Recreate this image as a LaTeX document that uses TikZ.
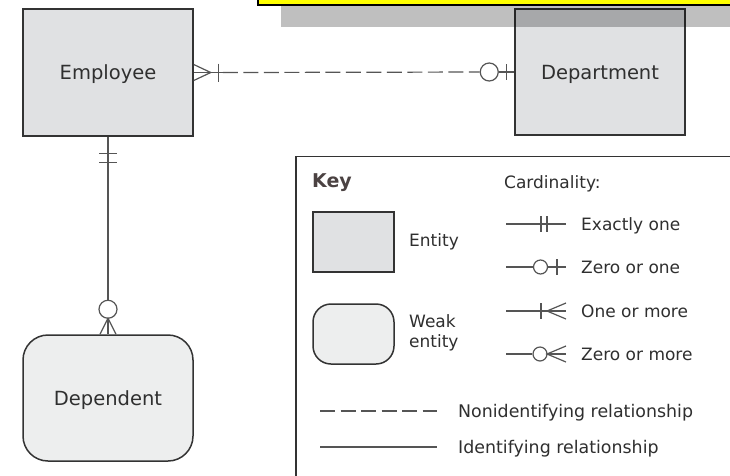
\documentclass[tikz,border=0pt]{standalone}
\usepackage{fontspec}
\setmainfont{DejaVu Sans}
\usetikzlibrary{calc}
\definecolor{ink}{HTML}{333333}
\definecolor{txt}{HTML}{2F2F2F}
\definecolor{keyhead}{HTML}{4B4242}
\definecolor{wire}{HTML}{555555}
\definecolor{entfill}{HTML}{E0E1E3}
\definecolor{weakfill}{HTML}{EDEEEE}
\definecolor{banner}{HTML}{FFFF00}

\begin{document}
\begin{tikzpicture}[x=1pt,y=-1pt,
  entity/.style={draw=ink, line width=1.5pt, fill=entfill,
    minimum width=170pt, minimum height=127pt, inner sep=0pt,
    font=\fontsize{19.5}{23}\selectfont, text=txt,
    text height=14.2pt, text depth=0pt},
  weak/.style={entity, fill=weakfill, rounded corners=25pt},
  conn/.style={draw=wire, line width=1.2pt},
  nonid/.style={conn, dash pattern=on 15pt off 5.5pt},
  ring/.style={circle, draw=wire, line width=1.2pt, fill=white,
    minimum size=18pt, inner sep=0pt},
  smallring/.style={ring, minimum size=14pt},
  keytext/.style={text=txt, font=\fontsize{17}{20.5}\selectfont,
    anchor=base west, inner sep=0pt},
]
\useasboundingbox (0,0) rectangle (730,475);
\clip (0,0) rectangle (730,475);
\fill[white] (0,0) rectangle (730,475);

% entities
\node[entity] (emp) at (108,72.5) {Employee};
\node[entity, minimum height=126pt] (dept) at (600,72) {Department};
\node[weak, minimum height=126pt] (dep) at (108,398) {Dependent};

% banner above, with its drop shadow over the department box
\draw[fill=banner, draw=black, line width=1.2pt] (258,-20) rectangle (760,5);
\fill[black, opacity=0.25] (281,5.6) rectangle (760,27);

% Employee >|- - - - O| Department  (nonidentifying)
\coordinate (e1) at ($(emp.east)+(29,0)$);
\draw[conn] (emp.east) -- (e1);
\draw[conn] ($(emp.east)+(0,-8)$) -- ($(emp.east)+(17,0)$) -- ($(emp.east)+(0,8)$);
\draw[conn] ($(emp.east)+(25,-9)$) -- ++(0,18);
\node[ring] (r1) at ($(dept.west)+(-25,0)$) {};
\draw[nonid] (e1) -- (r1);
\draw[conn] (r1) -- (dept.west);
\draw[conn] ($(dept.west)+(-8,-8)$) -- ++(0,16);

% Employee || ---- O< Dependent  (identifying)
\node[ring] (r2) at ($(dep.north)+(0,-25)$) {};
\draw[conn] (emp.south) -- (r2);
\draw[conn] ($(emp.south)+(-9,17)$) -- ++(18,0);
\draw[conn] ($(emp.south)+(-9,26)$) -- ++(18,0);
\draw[conn] (r2.south) -- (dep.north);
\draw[conn] ($(dep.north)+(-8,0)$) -- ($(dep.north)+(0,-16)$) -- ($(dep.north)+(8,0)$);

% key panel
\draw[ink, line width=1.5pt] (296,480) -- (296,156.5) -- (740,156.5);
\node[keytext, text=keyhead, font=\fontsize{19}{22}\selectfont\bfseries] (keyh) at (312,187.5) {Key};
\node[keytext] (cardh) at (504,188) {Cardinality:};

\node[entity, minimum width=81pt, minimum height=60pt] (kent) at (353.5,242) {};
\node[keytext] (kentl) at (409,246) {Entity};
\node[weak, minimum width=81pt, minimum height=60pt, rounded corners=18pt] (kweak) at (353.5,334) {};
\node[keytext, align=left, anchor=west] (kweakl) at (409,333) {Weak\\entity};

% cardinality samples
\draw[conn] (506,224) -- (566,224);
\draw[conn] (541,216) -- (541,232);
\draw[conn] (547,216) -- (547,232);
\node[keytext] (c1) at (581,230) {Exactly one};

\node[smallring] (k2) at (540.5,267) {};
\draw[conn] (506,267) -- (k2.west);
\draw[conn] (k2.east) -- (566,267);
\draw[conn] (557,259) -- (557,275);
\node[keytext] (c2) at (581,273) {Zero or one};

\draw[conn] (506,311) -- (566,311);
\draw[conn] (541,303) -- (541,319);
\draw[conn] (566,303) -- (547,311) -- (566,319);
\node[keytext] (c3) at (581,317) {One or more};

\node[smallring] (k4) at (540,354) {};
\draw[conn] (506,354) -- (k4.west);
\draw[conn] (k4.east) -- (566,354);
\draw[conn] (566,346) -- (547,354) -- (566,362);
\node[keytext] (c4) at (581,360) {Zero or more};

% relationship line samples
\draw[nonid] (320,411) -- (437,411);
\node[keytext, font=\fontsize{17.4}{20.5}\selectfont] (l1) at (458,417) {Nonidentifying relationship};
\draw[conn] (320,447) -- (437,447);
\node[keytext, font=\fontsize{17.4}{20.5}\selectfont] (l2) at (458,453) {Identifying relationship};
\end{tikzpicture}
\end{document}
